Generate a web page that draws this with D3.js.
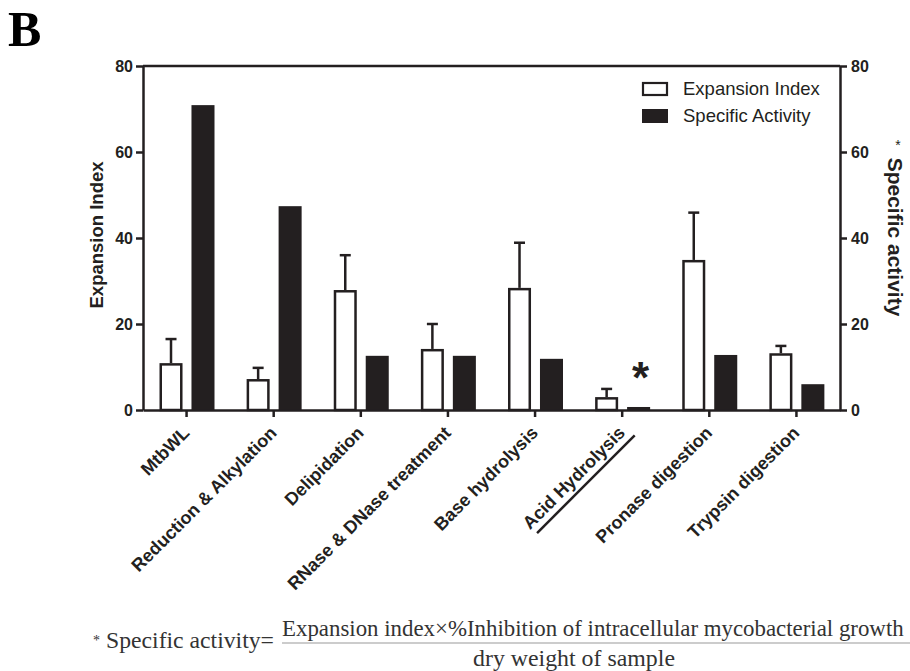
<!DOCTYPE html>
<html><head><meta charset="utf-8">
<script src="https://cdn.jsdelivr.net/npm/d3@7"></script>
<style>body{margin:0;background:#fff}svg{display:block}</style>
</head><body>
<svg id="c" width="910" height="671"></svg>
<script>
const categories = ["MtbWL","Reduction & Alkylation","Delipidation","RNase & DNase treatment","Base hydrolysis","Acid Hydrolysis","Pronase digestion","Trypsin digestion"];
const expansionIndex = [10.9, 7.2, 27.9, 14.2, 28.4, 3.0, 34.9, 13.2];
const expansionError = [5.6, 2.6, 8.1, 5.8, 10.5, 1.9, 11.0, 1.7];
const specificActivity = [70.9, 47.4, 12.6, 12.6, 11.9, 0.7, 12.8, 6.0];
const yTicks = [0, 20, 40, 60, 80];
const seriesNames = ["Expansion Index", "Specific Activity"];

const svg = d3.select("#c");
const L = 143, R = 840, T = 66, B = 410;
const ink = "#231f20";
const x = d3.scaleBand().domain(categories).range([L, R]).padding(0);
const xi = d3.scaleBand().domain(seriesNames).range([16.5, 71.5]).paddingInner(0.28).paddingOuter(0);
const yL = d3.scaleLinear().domain([0, 80]).range([B, T]);
const yR = d3.scaleLinear().domain([0, 80]).range([B, T]);
const sans = "Arial, 'Liberation Sans', Helvetica, sans-serif";
const serif = "'Times New Roman', 'Liberation Serif', serif";

// "B"
svg.append("text").attr("x", 8).attr("y", 46).attr("font-family", serif).attr("font-weight", "bold")
  .attr("font-size", 50).attr("fill", "#000").text("B");

// bars
const g = svg.append("g");
categories.forEach((c, i) => {
  const x0 = x(c);
  const wb = xi("Expansion Index"), bw = xi.bandwidth();
  const cx = x0 + wb + bw / 2;
  const top = expansionIndex[i] + expansionError[i];
  g.append("line").attr("x1", cx).attr("x2", cx).attr("y1", yL(expansionIndex[i])).attr("y2", yL(top))
    .attr("stroke", ink).attr("stroke-width", 2.5);
  g.append("line").attr("x1", cx - 5.5).attr("x2", cx + 5.5).attr("y1", yL(top)).attr("y2", yL(top))
    .attr("stroke", ink).attr("stroke-width", 2.5);
  g.append("rect").attr("x", x0 + wb + 1.25).attr("width", bw - 2.5)
    .attr("y", yL(expansionIndex[i]) + 1.25).attr("height", yL(0) - yL(expansionIndex[i]) - 1.25)
    .attr("fill", "#fff").attr("stroke", ink).attr("stroke-width", 2.5);
  g.append("rect").attr("x", x0 + xi("Specific Activity")).attr("width", bw)
    .attr("y", yR(specificActivity[i])).attr("height", yR(0) - yR(specificActivity[i]))
    .attr("fill", ink);
});

// asterisk above acid hydrolysis
svg.append("text").attr("x", x("Acid Hydrolysis") + xi("Specific Activity") + xi.bandwidth() / 2 + 2)
  .attr("y", yR(specificActivity[5]) - 14).attr("text-anchor", "middle").attr("font-family", sans)
  .attr("font-weight", "bold").attr("font-size", 44).attr("fill", ink).text("*");

// axes
const axL = d3.axisLeft(yL).tickValues(yTicks).tickSize(7).tickPadding(3).tickSizeOuter(0);
const axR = d3.axisRight(yR).tickValues(yTicks).tickSize(7).tickPadding(4).tickSizeOuter(0);
const axB = d3.axisBottom(x).tickSize(7).tickSizeOuter(0).tickFormat("");
function style(sel) {
  sel.select(".domain").attr("stroke", ink).attr("stroke-width", 2.5);
  sel.selectAll(".tick line").attr("stroke", ink).attr("stroke-width", 2.5);
  sel.selectAll(".tick text").attr("fill", ink).attr("font-family", sans).attr("font-weight", "bold").attr("font-size", 16);
}
svg.append("g").attr("transform", `translate(${L},0)`).call(axL).call(style);
svg.append("g").attr("transform", `translate(${R},0)`).call(axR).call(style);
svg.append("g").attr("transform", `translate(0,${B})`).call(axB).call(style);
svg.append("line").attr("x1", L).attr("x2", R).attr("y1", T).attr("y2", T).attr("stroke", ink).attr("stroke-width", 2.5);

// x labels
categories.forEach((c, i) => {
  const cx = x(c) + x.bandwidth() / 2;
  const tr = `translate(${cx + 4},${B + 24}) rotate(-45)`;
  const t = svg.append("text").attr("transform", tr)
    .attr("text-anchor", "end").attr("font-family", sans).attr("font-weight", "bold").attr("font-size", 18)
    .attr("fill", ink).text(c);
  if (c === "Acid Hydrolysis") {
    const len = t.node().getComputedTextLength();
    svg.append("line").attr("transform", tr)
      .attr("x1", -len + 3).attr("x2", 5).attr("y1", 7).attr("y2", 7)
      .attr("stroke", ink).attr("stroke-width", 2.5);
  }
});

// axis titles
svg.append("text").attr("transform", `translate(103,${(T + B) / 2 - 3}) rotate(-90)`).attr("text-anchor", "middle")
  .attr("font-family", sans).attr("font-weight", "bold").attr("font-size", 18.5).attr("fill", ink).text("Expansion Index");
svg.append("text").attr("transform", `translate(888,${(T + B) / 2 - 1}) rotate(90)`).attr("text-anchor", "middle")
  .attr("font-family", sans).attr("font-weight", "bold").attr("font-size", 21).attr("fill", ink).text("Specific activity");
svg.append("text").attr("x", 898).attr("y", 150).attr("text-anchor", "middle")
  .attr("font-family", sans).attr("font-size", 14).attr("fill", ink).text("*");

// legend
const lg = svg.append("g");
lg.append("rect").attr("x", 643).attr("y", 83).attr("width", 24).attr("height", 12).attr("fill", "#fff").attr("stroke", ink).attr("stroke-width", 2.2);
lg.append("rect").attr("x", 642).attr("y", 109).attr("width", 26).attr("height", 14).attr("fill", ink);
lg.append("text").attr("x", 683).attr("y", 95).attr("font-family", sans).attr("font-size", 18.5).attr("fill", ink).text(seriesNames[0]);
lg.append("text").attr("x", 683).attr("y", 122).attr("font-family", sans).attr("font-size", 18.5).attr("fill", ink).text(seriesNames[1]);

// formula
const fcol = "#333";
function fitText(sel, target) {
  const w = sel.node().getComputedTextLength();
  const fs = parseFloat(sel.attr("font-size"));
  sel.attr("font-size", (fs * target / w).toFixed(2));
}
svg.append("text").attr("x", 93).attr("y", 645).attr("font-family", serif).attr("font-size", 14).attr("fill", fcol).text("*");
svg.append("text").attr("x", 106).attr("y", 648).attr("font-family", serif).attr("font-size", 24).attr("fill", fcol)
  .text("Specific activity=").call(fitText, 168);
svg.append("text").attr("x", 282).attr("y", 636).attr("font-family", serif).attr("font-size", 22).attr("fill", fcol)
  .text("Expansion index×%Inhibition of intracellular mycobacterial growth").call(fitText, 622);
svg.append("line").attr("x1", 282).attr("x2", 910).attr("y1", 643).attr("y2", 643).attr("stroke", "#bbb").attr("stroke-width", 1.5);
svg.append("text").attr("x", 574).attr("y", 666).attr("text-anchor", "middle").attr("font-family", serif).attr("font-size", 23).attr("fill", fcol)
  .text("dry weight of sample").call(fitText, 202);
</script>
</body></html>
